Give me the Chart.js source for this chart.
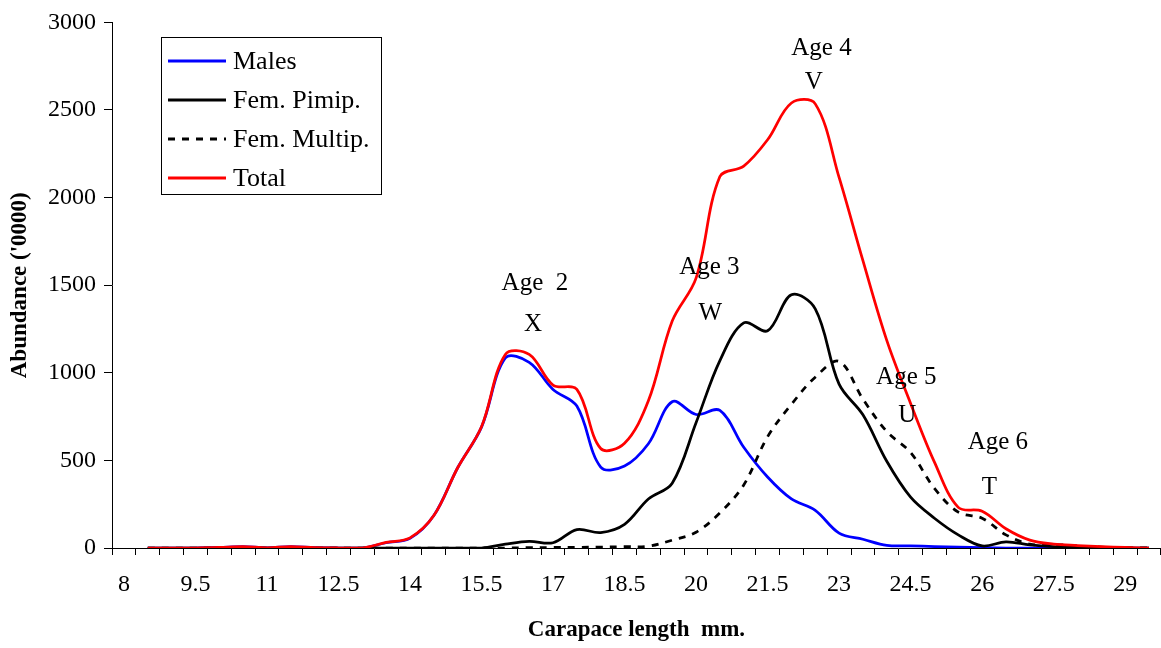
<!DOCTYPE html>
<html><head><meta charset="utf-8">
<script src="https://cdn.jsdelivr.net/npm/chart.js@4"></script>
<style>html,body{margin:0;padding:0;overflow:hidden;background:#fff}#wrap{width:1164px;height:648px}</style>
</head><body><div id="wrap"><canvas id="c" width="1164" height="648"></canvas></div>
<script>
// Categories (carapace length, mm)
const lengths = ['8','8.5','9','9.5','10','10.5','11','11.5','12','12.5','13','13.5','14','14.5','15','15.5','16','16.5','17','17.5','18','18.5','19','19.5','20','20.5','21','21.5','22','22.5','23','23.5','24','24.5','25','25.5','26','26.5','27','27.5','28','28.5','29','29.5'];
const xTickLabels = ['8','9.5','11','12.5','14','15.5','17','18.5','20','21.5','23','24.5','26','27.5','29'];
const yTickValues = [0,500,1000,1500,2000,2500,3000];

// Series values (abundance '0000)
const males     = [null,0,0,0,3,8,1,8,2,0,0,30,55,185,458,690,1085,1060,905,810,462,468,595,835,762,785,575,405,280,215,85,50,15,12,8,5,2,0,0,0,0,0,0,0];
const femPrimip = [null,0,0,0,0,0,0,0,0,0,0,0,0,0,0,0,22,38,30,105,88,135,280,370,715,1070,1285,1240,1445,1365,935,760,495,290,170,75,12,35,18,8,4,2,0,0];
const femMultip = [null,0,0,0,0,0,0,0,0,0,0,0,0,0,0,0,0,2,3,4,5,8,10,45,90,200,360,635,820,975,1065,850,665,545,340,205,170,75,22,20,12,5,2,0];
const total     = [null,0,0,0,3,8,1,8,2,0,0,32,58,185,458,692,1105,1105,930,905,568,598,840,1295,1540,2120,2180,2330,2540,2535,2115,1640,1185,825,490,232,210,110,45,22,14,8,3,0];

// Annotations: text, position in mm and abundance
const ageTexts = ['Age  2','X','Age 3','W','Age 4','V','Age 5','U','Age 6','T'];
const ageMm    = [16.62,16.58,20.28,20.3,22.63,22.47,24.41,24.43,26.33,26.15];
const ageVal   = [1511,1274,1602,1341,2853,2660,973,758,600,345];

const legendNames = ['Males','Fem. Pimip.','Fem. Multip.','Total'];

const serif = 'Liberation Serif, Times New Roman, serif';

const overlay = {
  id: 'overlay',
  afterDraw(chart) {
    const ctx = chart.ctx;
    const xs = chart.scales.x, ys = chart.scales.y;
    ctx.save();
    // annotations
    ctx.fillStyle = '#000';
    ctx.font = '25px ' + serif;
    ctx.textAlign = 'center';
    ctx.textBaseline = 'middle';
    for (let i = 0; i < ageTexts.length; i++) {
      const idx = (ageMm[i] - 8) * 2;
      ctx.fillText(ageTexts[i], xs.getPixelForValue(idx), ys.getPixelForValue(ageVal[i]));
    }
    // legend box
    ctx.fillStyle = '#fff';
    ctx.fillRect(161, 37, 221, 158);
    ctx.strokeStyle = '#000';
    ctx.lineWidth = 1;
    ctx.setLineDash([]);
    ctx.strokeRect(161.5, 37.5, 220, 157);
    const rows = [61, 100, 139, 178];
    ctx.font = '26px ' + serif;
    ctx.textAlign = 'left';
    chart.data.datasets.forEach((ds, i) => {
      const y = rows[i];
      ctx.beginPath();
      ctx.strokeStyle = ds.borderColor;
      ctx.lineWidth = 3;
      ctx.setLineDash(ds.borderDash || []);
      ctx.moveTo(168, y);
      ctx.lineTo(226, y);
      ctx.stroke();
      ctx.setLineDash([]);
      ctx.fillStyle = '#000';
      ctx.fillText(legendNames[i], 233, y + 1);
    });
    ctx.restore();
  }
};

new Chart(document.getElementById('c'), {
  type: 'line',
  data: {
    labels: lengths,
    datasets: [
      {label: legendNames[0], data: males, borderColor: '#0000FF', borderWidth: 2.75, order: 3},
      {label: legendNames[1], data: femPrimip, borderColor: '#000000', borderWidth: 2.75, order: 2},
      {label: legendNames[2], data: femMultip, borderColor: '#000000', borderWidth: 2.75, borderDash: [7, 7], order: 1},
      {label: legendNames[3], data: total, borderColor: '#FF0000', borderWidth: 2.75, order: 0}
    ]
  },
  options: {
    responsive: false,
    animation: false,
    devicePixelRatio: 1,
    layout: {padding: {top: 18, left: 0, right: 0, bottom: 0}},
    elements: {point: {radius: 0}, line: {tension: 0.35, fill: false}},
    plugins: {legend: {display: false}, tooltip: {enabled: false}},
    scales: {
      x: {
        type: 'category',
        offset: true,
        afterFit: s => { s.height = 100; },
        grid: {display: true, drawOnChartArea: false, drawTicks: true, tickLength: 7, color: '#000', offset: true},
        border: {display: true, color: '#000', width: 1},
        ticks: {
          autoSkip: false, maxRotation: 0, minRotation: 0, padding: 15,
          color: '#000', font: {family: serif, size: 24},
          callback: (v, i) => xTickLabels.includes(lengths[i]) ? lengths[i] : ''
        },
        title: {display: true, text: 'Carapace length  mm.', color: '#000',
          font: {family: serif, size: 23, weight: 'bold'}, padding: {top: 0, bottom: 4}}
      },
      y: {
        min: 0, max: 3000,
        afterFit: s => { s.width = 112; },
        afterBuildTicks: s => { s.ticks = yTickValues.map(v => ({value: v})); },
        grid: {display: true, drawOnChartArea: false, drawTicks: true, tickLength: 8, color: '#000'},
        border: {display: true, color: '#000', width: 1},
        ticks: {padding: 8, color: '#000', font: {family: serif, size: 24}, callback: v => String(v)},
        title: {display: true, text: "Abundance ('0000)", color: '#000',
          font: {family: serif, size: 23, weight: 'bold'}, padding: {top: 6, bottom: 0}}
      }
    }
  },
  plugins: [overlay]
});
</script></body></html>
